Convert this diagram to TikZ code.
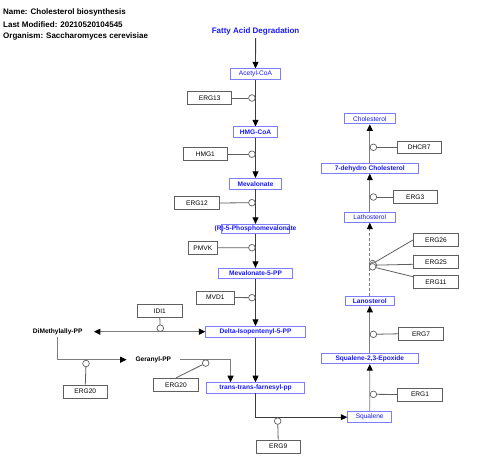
\documentclass[tikz,border=0pt]{standalone}
\usepackage{fontspec}
\setmainfont{Liberation Sans}
\usetikzlibrary{arrows.meta,calc}
\definecolor{metblue}{RGB}{25,25,255}
\definecolor{metborder}{RGB}{125,125,255}
\definecolor{genegray}{RGB}{95,95,95}
\definecolor{convdark}{RGB}{60,60,60}
\definecolor{convgray}{RGB}{125,125,125}
\begin{document}
\begin{tikzpicture}[x=1pt,y=-1pt,
  met/.style={draw=metborder,line width=0.9pt,fill=white,text=metblue,inner sep=0pt,font=\fontsize{6.6}{7}\selectfont\bfseries},
  metn/.style={met,font=\fontsize{6.6}{7}\selectfont},
  gene/.style={draw=genegray,line width=0.8pt,fill=white,inner sep=0pt,font=\fontsize{6.6}{7}\selectfont,minimum width=44.5pt,minimum height=13pt},
  plain/.style={inner sep=0pt,font=\fontsize{6.6}{7}\selectfont\bfseries},
  titletext/.style={anchor=west,inner sep=0pt,font=\fontsize{8}{9}\selectfont\bfseries},
  cat/.style={circle,draw=genegray,fill=white,line width=0.7pt,minimum size=6.6pt,inner sep=0pt},
  glink/.style={draw=genegray,line width=0.8pt},
  tip/.tip={Triangle[width=6pt,length=6.5pt,color=black]},
  conv/.style={draw=convdark,line width=0.9pt,-tip},
  convr/.style={draw=convgray,line width=0.9pt,-tip},
  convl/.style={draw=convgray,line width=0.9pt,-tip}
]
\useasboundingbox[fill=white] (0,0) rectangle (480,476);

% title
\node[titletext] (tname) at (3,12.3) {Name: Cholesterol biosynthesis};
\node[titletext] (tmod) at (3,24.2) {Last Modified: 20210520104545};
\node[titletext] (torg) at (3,36.1) {Organism: Saccharomyces cerevisiae};

% left column metabolites
\node[inner sep=0pt,minimum height=14pt,text=metblue,font=\fontsize{8}{9}\selectfont\bfseries] (fad) at (255.6,31) {Fatty Acid Degradation};
\node[metn,minimum width=50pt,minimum height=10.3pt] (acetyl) at (255.5,74) {Acetyl-CoA};
\node[met,minimum width=44pt,minimum height=10.3pt] (hmgcoa) at (255.5,132) {HMG-CoA};
\node[met,minimum width=52.7pt,minimum height=10.7pt] (meva) at (255.5,183.7) {Mevalonate};
\coordinate (r5pc) at (255.5,228.7);
\draw[draw=metborder,line width=0.9pt,fill=white] ($(r5pc)+(-34.3,-4.65)$) rectangle ($(r5pc)+(34.3,4.65)$);
\node[inner sep=0pt,minimum height=9.3pt,text=metblue,font=\fontsize{6.6}{7}\selectfont\bfseries] (r5p) at (r5pc) {(R)-5-Phosphomevalonate};
\node[met,minimum width=74.7pt,minimum height=10.4pt] (m5pp) at (255.5,273.5) {Mevalonate-5-PP};
\node[met,minimum width=99.3pt,minimum height=10.7pt] (dipp) at (255.5,331.7) {Delta-Isopentenyl-5-PP};
\node[met,minimum width=97.6pt,minimum height=10.3pt] (ttf) at (255.5,387.8) {trans-trans-farnesyl-pp};
\node[plain,minimum width=72pt,minimum height=10pt] (dmapp) at (57.7,331.7) {DiMethylally-PP};
\node[plain,minimum width=53pt,minimum height=10pt] (gpp) at (153.3,359.7) {Geranyl-PP};

% right column metabolites
\node[metn,minimum width=44pt,minimum height=10.6pt] (squalene) at (369.7,417.2) {Squalene};
\node[met,minimum width=97pt,minimum height=10pt] (sqepox) at (369.8,358.7) {Squalene-2,3-Epoxide};
\node[met,minimum width=48.3pt,minimum height=9.3pt] (lano) at (369.8,300.7) {Lanosterol};
\node[metn,minimum width=51.4pt,minimum height=9.6pt] (latho) at (369.8,217.5) {Lathosterol};
\node[met,minimum width=96.3pt,minimum height=10pt] (dehydro) at (369.8,168.3) {7-dehydro Cholesterol};
\node[metn,minimum width=51.4pt,minimum height=10.3pt] (chol) at (369.8,118.8) {Cholesterol};

% genes
\node[gene,minimum width=44pt,minimum height=12.3pt] (erg13) at (209.7,98) {ERG13};
\node[gene,minimum width=44.7pt] (hmg1) at (205.3,154.2) {HMG1};
\node[gene,minimum width=44.3pt,minimum height=12.5pt] (erg12) at (197,203) {ERG12};
\node[gene,minimum width=28.3pt,minimum height=12.3pt] (pmvk) at (202.8,247.8) {PMVK};
\node[gene,minimum width=37.3pt] (mvd1) at (215.3,297.5) {MVD1};
\node[gene,minimum width=45pt,minimum height=13.4pt] (idi1) at (159.8,311) {IDI1};
\node[gene,minimum width=44pt,minimum height=13.3pt] (erg20a) at (85.3,391.7) {ERG20};
\node[gene,minimum width=44.6pt] (erg20b) at (176,384.8) {ERG20};
\node[gene,minimum width=44.3pt,minimum height=13.3pt] (erg9) at (278.2,446.7) {ERG9};
\node[gene,minimum width=44.3pt,minimum height=12.7pt] (dhcr7) at (419.2,147.3) {DHCR7};
\node[gene,minimum width=43.7pt,minimum height=12.6pt] (erg3) at (415.2,197) {ERG3};
\node[gene,minimum width=44.6pt] (erg26) at (436,239.8) {ERG26};
\node[gene,minimum width=44.6pt] (erg25) at (436,261.8) {ERG25};
\node[gene,minimum width=44.6pt] (erg11) at (436,281.8) {ERG11};
\node[gene,minimum width=44.6pt] (erg7) at (421,333.8) {ERG7};
\node[gene,minimum width=44.6pt] (erg1) at (420,394.5) {ERG1};

% conversions, left column
\draw[conv] (fad.south) -- (acetyl.north);
\draw[conv] (acetyl.south) -- (hmgcoa.north);
\draw[conv] (hmgcoa.south) -- (meva.north);
\draw[conv] (meva.south) -- (r5p.north);
\draw[conv] (r5p.south) -- (m5pp.north);
\draw[conv] (m5pp.south) -- (dipp.north);
\draw[conv] (dipp.south) -- (ttf.north);
\draw[convl,tip-tip] (dmapp.east) -- (dipp.west);
\draw[convl] (dmapp.south) |- (gpp.west);
\draw[convl] (gpp.east) -| ($(ttf.north west)+(24.3,0)$);
\draw[conv] (ttf.south) |- (squalene.west);

% conversions, right column
\draw[convr] (squalene.north) -- (sqepox.south);
\draw[convr] (sqepox.north) -- (lano.south);
\draw[convr,dashed,dash pattern=on 3pt off 2pt] (lano.north) -- (latho.south);
\draw[convr] (latho.north) -- (dehydro.south);
\draw[convr] (dehydro.north) -- (chol.south);

% catalysis anchors
\node[cat] (c13) at (251.9,98) {};
\node[cat] (chmg) at (251.9,154.2) {};
\node[cat] (c12) at (251.9,202.7) {};
\node[cat] (cpm) at (251.9,247.7) {};
\node[cat] (cmv) at (251.9,297.7) {};
\node[cat] (cidi) at (160.3,328.2) {};
\node[cat] (c20a) at (86,363.5) {};
\node[cat] (c20b) at (205.7,363.1) {};
\node[cat] (c9) at (277.7,421.1) {};
\node[cat] (cdh) at (373.4,147.3) {};
\node[cat] (ce3) at (373.4,197) {};
\node[cat] (ce26) at (372.6,263.6) {};
\node[cat] (ce25) at (373.3,265.2) {};
\node[cat] (ce11) at (372.6,266.8) {};
\node[cat] (ce7) at (373.4,334.3) {};
\node[cat] (ce1) at (373.4,394.3) {};

% catalysis links
\draw[glink] (erg13.east) -- (c13);
\draw[glink] (hmg1.east) -- (chmg);
\draw[glink] (erg12.east) -- (c12);
\draw[glink] (pmvk.east) -- (cpm);
\draw[glink] (mvd1.east) -- (cmv);
\draw[glink] (idi1.south) -- (cidi);
\draw[glink] (erg20a.north) -- (c20a);
\draw[glink] (erg20b.north) -- (c20b);
\draw[glink] (erg9.north) -- (c9);
\draw[glink] (dhcr7.west) -- (cdh);
\draw[glink] (erg3.west) -- (ce3);
\draw[glink] (erg26.west) -- (ce26);
\draw[glink] ($(erg25.west)+(0,2.5)$) -- (ce25);
\draw[glink] ($(erg11.west)+(0,-5)$) -- (ce11);
\draw[glink] (erg7.west) -- (ce7);
\draw[glink] (erg1.west) -- (ce1);
\end{tikzpicture}
\end{document}
